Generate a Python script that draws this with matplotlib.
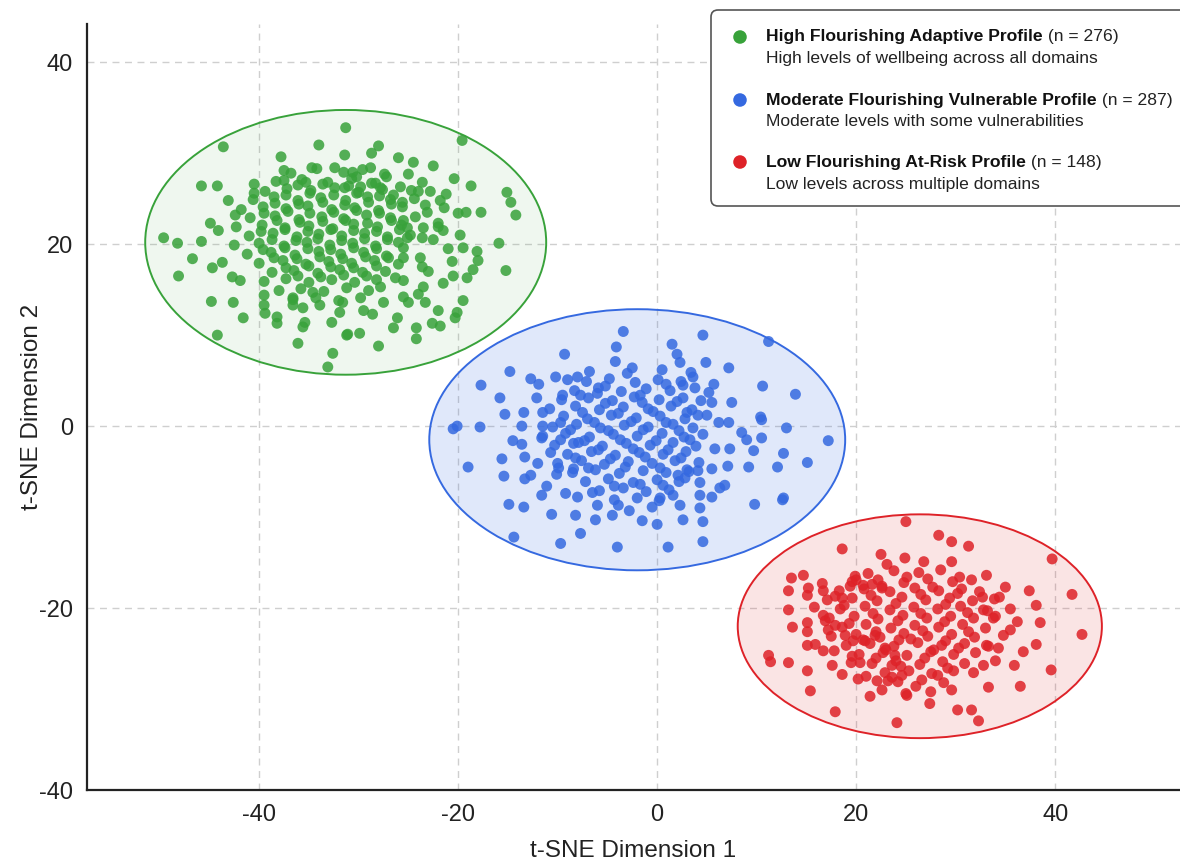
"""t-SNE projection of the three flourishing profiles"""

import numpy as np
import matplotlib
matplotlib.use("Agg")
import matplotlib.pyplot as plt
from matplotlib.patches import Ellipse, FancyBboxPatch

plt.rcParams["font.family"] = ["Liberation Sans", "DejaVu Sans"]
plt.rcParams["axes.unicode_minus"] = False

# ---- data ----
profile_names = [
    "High Flourishing Adaptive Profile",
    "Moderate Flourishing Vulnerable Profile",
    "Low Flourishing At-Risk Profile",
]
profile_n = [276, 287, 148]
profile_desc = [
    "High levels of wellbeing across all domains",
    "Moderate levels with some vulnerabilities",
    "Low levels across multiple domains",
]

green_pts = [
    # outer points
    (-43.6, 30.7), (-34.0, 30.9), (-31.3, 32.8), (-37.8, 29.6), (-31.4, 29.8),
    (-45.8, 26.4), (-44.2, 26.4), (-43.1, 24.8), (-40.5, 26.6), (-40.5, 25.6),
    (-37.5, 28.1), (-37.5, 27.0), (-34.7, 28.4), (-35.3, 26.8), (-32.4, 28.4),
    (-31.4, 26.2), (-44.9, 22.3), (-44.1, 21.5), (-42.4, 23.2), (-49.6, 20.7),
    (-48.2, 20.1), (-45.8, 20.3), (-46.7, 18.4), (-48.1, 16.5), (-44.7, 17.4),
    (-43.7, 18.0), (-42.7, 16.4), (-41.9, 16.0), (-44.8, 13.7), (-42.6, 13.6),
    (-41.6, 11.9), (-44.2, 10.0), (-39.5, 14.4), (-39.5, 13.3), (-39.4, 12.4),
    (-38.2, 12.0), (-38.2, 11.3), (-36.1, 9.1), (-36.6, 14.1), (-36.6, 13.3),
    (-35.6, 13.0), (-35.4, 11.4), (-35.6, 10.9), (-34.6, 14.7), (-33.9, 13.3),
    (-32.7, 11.4), (-32.6, 8.0), (-33.1, 6.5), (-31.2, 10.0), (-31.6, 13.6),
    (-31.9, 12.5), (-28.0, 30.8), (-19.6, 31.4), (-25.0, 27.7), (-28.8, 28.4),
    (-30.6, 27.9), (-30.2, 27.4), (-27.2, 27.4), (-18.7, 26.4), (-15.1, 25.7),
    (-14.7, 24.6), (-14.2, 23.2), (-24.0, 25.8), (-22.8, 25.8), (-21.8, 24.8),
    (-21.4, 24.0), (-23.3, 24.3), (-23.1, 23.5), (-20.0, 23.4), (-19.2, 23.5),
    (-17.7, 23.5), (-22.0, 22.3), (-22.0, 21.9), (-15.9, 20.1), (-18.1, 19.2),
    (-18.0, 18.2), (-19.5, 19.6), (-20.6, 18.1), (-15.2, 17.1), (-19.1, 16.3),
    (-21.5, 15.7), (-19.5, 13.8), (-20.1, 12.5), (-20.3, 11.9), (-22.0, 12.7),
    (-22.6, 11.3), (-21.8, 11.0), (-24.2, 10.8), (-24.2, 9.6), (-26.1, 11.9),
    (-26.5, 10.8), (-28.0, 8.8), (-31.1, 10.1), (-29.9, 10.2), (-29.5, 12.7),
    (-28.6, 12.3), (-27.5, 13.6), (-27.8, 15.3), (-23.3, 13.6), (-23.5, 15.3),
    (-25.5, 14.2), (-25.0, 13.6), (-26.3, 16.3), (-23.8, 18.5), (-23.6, 17.5),
    (-25.5, 19.6), (-25.5, 18.5), (-25.1, 20.7), (-25.1, 21.8), (-25.5, 22.6),
    (-25.6, 24.6), (-23.5, 21.8), (-23.6, 20.7), (-26.5, 25.4), (-25.8, 26.3),
    (-27.8, 26.2), (-29.8, 26.3), (-22.5, 20.5), (-21.0, 19.5), (-23.0, 17.0),
    (-20.5, 16.5), (-24.0, 14.5), (-21.5, 21.5), (-19.8, 21.0), (-18.5, 17.2),
    (-21.2, 25.5), (-23.6, 26.8), (-20.4, 27.2), (-24.5, 29.0), (-26.0, 29.5),
    (-28.7, 30.0), (-22.5, 28.6),
    # dense core
    (-36.8, 27.8), (-34.2, 28.3), (-31.5, 27.9), (-29.6, 28.2), (-27.4, 27.7),
    (-38.3, 26.9), (-35.7, 27.1), (-33.1, 26.8), (-30.7, 27.2), (-28.3, 26.7),
    (-39.4, 25.8), (-37.2, 26.1), (-34.8, 25.9), (-32.4, 26.2), (-30.0, 25.7),
    (-27.6, 26.0), (-24.7, 25.9), (-40.6, 24.9), (-38.5, 25.2), (-36.1, 24.8),
    (-33.8, 25.1), (-31.3, 24.8), (-29.1, 25.2), (-26.8, 24.9), (-24.4, 25.0),
    (-41.8, 23.8), (-39.6, 24.1), (-37.3, 23.9), (-35.1, 24.2), (-32.7, 23.8),
    (-30.4, 24.0), (-28.0, 23.7), (-25.6, 24.1), (-40.9, 22.9), (-38.4, 23.1),
    (-36.0, 22.7), (-33.7, 23.0), (-31.5, 22.8), (-29.2, 23.2), (-26.8, 22.9),
    (-24.3, 23.0), (-42.3, 21.9), (-39.7, 22.1), (-37.4, 21.8), (-35.0, 22.0),
    (-32.6, 21.7), (-30.5, 22.2), (-28.1, 21.9), (-25.7, 22.1), (-41.0, 20.9),
    (-38.6, 21.2), (-36.2, 20.8), (-34.0, 21.1), (-31.7, 20.9), (-29.4, 21.2),
    (-27.1, 20.8), (-24.8, 21.0), (-42.5, 19.9), (-40.0, 20.1), (-37.5, 19.8),
    (-35.2, 20.2), (-32.9, 19.9), (-30.6, 20.1), (-28.3, 19.8), (-26.0, 20.2),
    (-41.2, 18.9), (-38.8, 19.1), (-36.4, 18.8), (-34.0, 19.2), (-31.8, 18.9),
    (-29.5, 19.1), (-27.2, 18.7), (-40.0, 17.9), (-37.6, 18.2), (-35.3, 17.8),
    (-33.0, 18.1), (-30.7, 17.9), (-28.4, 18.2), (-26.0, 17.8), (-38.7, 16.9),
    (-36.5, 17.1), (-34.1, 16.8), (-31.9, 17.2), (-29.6, 16.9), (-27.3, 17.0),
    (-39.5, 15.9), (-37.3, 16.2), (-35.0, 15.8), (-32.7, 16.1), (-30.4, 15.8),
    (-28.2, 16.1), (-25.5, 16.0), (-38.0, 14.9), (-35.8, 15.1), (-33.5, 14.8),
    (-31.2, 15.2), (-29.0, 14.9), (-36.6, 13.9), (-34.3, 14.1), (-32.0, 13.8),
    (-29.8, 14.1), (-36.1, 26.5), (-33.6, 26.6), (-31.0, 26.4), (-28.7, 26.7),
    (-37.3, 25.4), (-34.9, 25.6), (-32.5, 25.4), (-30.2, 25.6), (-27.9, 25.3),
    (-38.4, 24.5), (-36.0, 24.4), (-33.6, 24.6), (-31.4, 24.3), (-29.0, 24.6),
    (-26.7, 24.4), (-39.5, 23.4), (-37.1, 23.6), (-34.9, 23.4), (-32.5, 23.5),
    (-30.2, 23.7), (-27.9, 23.4), (-38.2, 22.6), (-35.9, 22.4), (-33.6, 22.5),
    (-31.3, 22.6), (-29.1, 22.3), (-26.7, 22.6), (-39.8, 21.4), (-37.4, 21.6),
    (-35.1, 21.4), (-32.8, 21.6), (-30.5, 21.5), (-28.2, 21.4), (-25.9, 21.6),
    (-38.7, 20.5), (-36.3, 20.4), (-34.1, 20.6), (-31.7, 20.4), (-29.4, 20.6),
    (-27.1, 20.5), (-39.6, 19.4), (-37.4, 19.6), (-35.1, 19.5), (-32.8, 19.4),
    (-30.5, 19.6), (-28.2, 19.5), (-38.5, 18.5), (-36.2, 18.4), (-33.9, 18.6),
    (-31.6, 18.4), (-29.3, 18.6), (-27.0, 18.5), (-37.3, 17.4), (-35.0, 17.6),
    (-32.8, 17.5), (-30.5, 17.4), (-28.2, 17.6), (-36.1, 16.5), (-33.8, 16.4),
    (-31.5, 16.6), (-29.2, 16.5),
]

blue_pts = [
    # outer points
    (-3.4, 10.4), (-4.1, 8.7), (-9.3, 7.9), (-4.2, 7.1), (-2.5, 6.4),
    (-14.8, 6.0), (-6.8, 6.0), (-17.7, 4.5), (-15.8, 3.1), (-12.7, 5.2),
    (-11.9, 4.6), (-10.2, 5.4), (-9.0, 5.1), (-8.0, 5.4), (-5.2, 4.4),
    (-12.1, 3.1), (-9.5, 3.4), (-7.7, 3.4), (-15.3, 1.3), (-13.4, 1.5),
    (-11.5, 1.5), (-20.5, -0.3), (-20.1, 0.0), (-17.8, -0.1), (-13.6, 0.0),
    (-11.5, 0.0), (-9.7, 0.4), (-14.5, -1.6), (-13.6, -2.0), (-11.6, -1.3),
    (-9.7, -1.5), (-8.4, -1.9), (-10.7, -2.9), (-19.0, -4.5), (-15.6, -3.6),
    (-15.4, -5.5), (-13.3, -3.4), (-12.0, -4.1), (-13.3, -5.8), (-12.7, -5.4),
    (-10.1, -5.3), (-9.9, -4.6), (-8.4, -4.7), (-11.1, -6.6), (-11.6, -7.6),
    (-9.2, -7.4), (-8.0, -7.8), (-6.5, -7.3), (-14.9, -8.6), (-13.4, -8.9),
    (-10.6, -9.7), (-8.2, -9.8), (-6.2, -10.3), (-6.0, -8.7), (-14.4, -12.2),
    (-9.7, -12.9), (-7.7, -11.8), (-4.0, -13.3), (-4.5, -9.8), (-3.9, -8.7),
    (4.6, 10.0), (11.2, 9.3), (1.5, 9.0), (2.0, 7.9), (2.3, 7.0),
    (4.9, 7.0), (7.2, 6.4), (10.6, 4.4), (13.9, 3.5), (5.7, 4.6),
    (5.2, 3.7), (3.6, 5.4), (2.6, 4.5), (7.5, 2.6), (5.5, 2.6),
    (10.4, 1.0), (10.5, 0.7), (5.0, 1.2), (6.2, 0.4), (7.2, 0.4),
    (13.0, -0.2), (8.5, -0.7), (9.0, -1.5), (10.5, -1.3), (9.7, -2.7),
    (17.2, -1.6), (12.7, -3.0), (7.3, -2.5), (5.8, -2.5), (15.1, -4.0),
    (12.1, -4.5), (9.2, -4.5), (7.1, -4.4), (5.5, -4.7), (4.1, -4.9),
    (3.0, -4.8), (6.8, -6.5), (6.3, -6.8), (4.3, -6.2), (4.3, -7.6),
    (5.5, -7.8), (9.8, -8.6), (12.6, -8.1), (12.7, -7.9), (4.3, -9.0),
    (4.6, -10.5), (4.6, -12.7), (2.6, -10.3), (1.1, -13.3), (-1.5, -10.4),
    (0.0, -10.8), (1.6, -7.6), (2.3, -8.7), (0.3, -7.9), (0.6, -6.5),
    (2.1, -5.4), (2.8, -5.7),
    # dense core
    (-3.0, 5.8), (0.5, 6.2), (3.4, 5.9), (-7.1, 4.9), (-4.8, 5.2),
    (-2.2, 4.8), (0.1, 5.1), (2.4, 4.9), (-8.3, 3.9), (-5.9, 4.2),
    (-3.6, 3.8), (-1.1, 4.1), (1.3, 3.9), (3.8, 4.2), (-9.6, 2.9),
    (-6.9, 3.1), (-4.5, 2.8), (-2.3, 3.2), (0.2, 2.9), (2.6, 3.1),
    (4.4, 2.8), (-10.8, 1.9), (-8.2, 2.2), (-5.8, 1.8), (-3.4, 2.1),
    (-0.9, 1.9), (1.4, 2.2), (3.5, 1.8), (-9.4, 1.1), (-7.0, 0.8),
    (-4.6, 1.2), (-2.1, 0.9), (0.3, 1.1), (2.8, 0.8), (4.1, 1.2),
    (-10.5, -0.1), (-8.1, 0.2), (-5.7, -0.2), (-3.3, 0.1), (-0.9, -0.1),
    (1.6, 0.2), (3.6, -0.2), (-11.5, -1.1), (-9.2, -0.8), (-6.8, -1.2),
    (-4.4, -0.9), (-2.0, -1.1), (0.5, -0.8), (2.7, -1.2), (4.6, -0.9),
    (-10.3, -2.1), (-7.9, -1.8), (-5.5, -2.2), (-3.1, -1.9), (-0.7, -2.1),
    (1.6, -1.8), (3.9, -2.2), (-9.0, -3.1), (-6.6, -2.8), (-4.2, -3.2),
    (-1.8, -2.9), (0.6, -3.1), (2.9, -2.8), (-10.0, -4.1), (-7.6, -3.8),
    (-5.3, -4.2), (-2.9, -3.9), (-0.5, -4.1), (1.8, -3.8), (4.2, -4.0),
    (-8.5, -5.1), (-6.2, -4.8), (-3.8, -5.2), (-1.4, -4.9), (0.9, -5.1),
    (3.2, -5.0), (-7.2, -6.1), (-4.9, -5.8), (-2.4, -6.2), (0.0, -5.9),
    (2.2, -6.1), (-5.8, -7.1), (-3.4, -6.8), (-1.1, -7.2), (1.2, -7.0),
    (-4.3, -8.1), (-2.0, -7.9), (0.2, -8.2), (-6.0, 3.6), (-1.7, 3.4),
    (0.9, 4.6), (-5.2, 2.5), (-1.5, 2.6), (2.0, 2.7), (-7.5, 1.5),
    (-3.9, 1.4), (-0.4, 1.6), (3.0, 1.5), (-6.3, 0.4), (-2.6, 0.5),
    (0.9, 0.4), (-8.7, -0.4), (-4.9, -0.5), (-1.4, -0.4), (2.2, -0.5),
    (-7.3, -1.6), (-3.7, -1.5), (-0.1, -1.6), (3.3, -1.5), (-5.9, -2.6),
    (-2.4, -2.5), (1.1, -2.6), (-8.2, -3.5), (-4.7, -3.6), (-1.2, -3.4),
    (2.4, -3.5), (-6.9, -4.6), (-3.2, -4.5), (0.3, -4.6), (-4.3, -6.6),
    (-1.7, -6.4), (-0.5, -8.9), (-2.8, -9.3),
]

red_pts = [
    # outer points
    (25.0, -10.5), (18.6, -13.5), (22.5, -14.1), (24.9, -14.5), (23.1, -15.2),
    (13.5, -16.7), (14.7, -16.4), (13.2, -18.1), (15.2, -17.8), (15.1, -18.6),
    (16.6, -17.3), (16.7, -18.1), (17.9, -18.7), (18.6, -18.9), (13.2, -20.2),
    (15.8, -19.9), (16.7, -20.8), (16.9, -21.4), (13.6, -22.1), (15.1, -21.6),
    (15.1, -22.6), (17.9, -21.9), (17.2, -22.4), (19.4, -17.6), (19.9, -16.5),
    (20.7, -17.5), (21.6, -17.4), (22.6, -17.8), (11.2, -25.2), (11.4, -25.9),
    (13.2, -26.0), (15.1, -24.1), (15.9, -24.0), (16.7, -24.7), (15.1, -26.9),
    (15.4, -29.1), (17.9, -31.4), (18.6, -27.3), (17.6, -26.3), (20.2, -27.8),
    (20.4, -26.0), (19.6, -25.3), (21.4, -29.7), (22.1, -28.0), (24.1, -32.6),
    (25.1, -29.6), (18.9, -23.0), (19.7, -23.6), (20.9, -23.6), (21.9, -23.0),
    (22.9, -24.4), (23.9, -25.2), (23.6, -26.3), (24.6, -27.4), (23.2, -28.0),
    (22.6, -29.0), (28.3, -12.0), (29.6, -12.7), (31.3, -13.2), (39.7, -14.6),
    (26.8, -14.9), (29.6, -14.9), (33.1, -16.4), (30.4, -16.6), (35.0, -17.7),
    (37.4, -18.1), (41.7, -18.5), (38.1, -19.7), (35.5, -20.1), (36.2, -21.5),
    (38.5, -21.6), (42.7, -22.9), (38.1, -24.0), (36.8, -24.8), (35.9, -26.3),
    (39.6, -26.8), (36.5, -28.6), (33.3, -28.7), (31.8, -27.1), (32.8, -26.3),
    (34.0, -25.8), (29.6, -29.0), (27.4, -30.5), (30.2, -31.2), (31.6, -31.2),
    (32.3, -32.4), (33.3, -24.2), (34.3, -24.4), (34.8, -23.0), (35.5, -22.4),
    (33.8, -21.1), (33.2, -20.3), (34.4, -18.8), (32.7, -18.8),
    # dense core
    (21.2, -16.2), (23.8, -15.9), (26.3, -16.1), (28.5, -15.8), (19.6, -17.1),
    (22.2, -16.9), (24.8, -17.2), (27.2, -16.8), (29.7, -17.1), (31.6, -16.9),
    (18.3, -18.1), (20.8, -17.9), (23.4, -18.2), (25.9, -17.8), (28.3, -18.1),
    (30.6, -17.9), (32.4, -18.2), (17.1, -19.1), (19.6, -18.9), (22.1, -19.2),
    (24.6, -18.8), (27.0, -19.1), (29.4, -18.9), (31.7, -19.2), (33.9, -19.0),
    (18.4, -20.1), (20.9, -19.8), (23.4, -20.2), (25.8, -19.9), (28.2, -20.1),
    (30.5, -19.8), (32.8, -20.2), (17.3, -21.1), (19.8, -20.9), (22.2, -21.2),
    (24.7, -20.8), (27.1, -21.1), (29.5, -20.9), (31.8, -21.1), (34.0, -20.9),
    (18.6, -22.1), (21.0, -21.8), (23.5, -22.2), (25.9, -21.9), (28.3, -22.1),
    (30.7, -21.8), (33.0, -22.2), (17.5, -23.1), (20.0, -22.9), (22.4, -23.2),
    (24.8, -22.8), (27.2, -23.1), (29.6, -22.9), (31.9, -23.2), (19.0, -24.1),
    (21.4, -23.9), (23.8, -24.2), (26.2, -23.8), (28.6, -24.1), (30.9, -23.9),
    (33.1, -24.1), (20.3, -25.1), (22.7, -24.9), (25.1, -25.2), (27.5, -24.8),
    (29.8, -25.1), (32.0, -24.9), (21.6, -26.1), (24.0, -25.8), (26.4, -26.2),
    (28.7, -25.9), (30.9, -26.1), (22.9, -27.1), (25.3, -26.9), (27.6, -27.2),
    (29.8, -26.9), (24.2, -28.1), (26.6, -27.9), (28.8, -28.2), (20.0, -16.9),
    (22.6, -17.6), (25.1, -16.6), (27.7, -17.7), (30.2, -18.4), (21.5, -18.6),
    (24.0, -19.5), (26.5, -18.5), (29.0, -19.6), (18.8, -19.7), (21.7, -20.6),
    (24.2, -21.4), (26.5, -20.6), (28.9, -21.5), (31.2, -20.5), (19.3, -21.7),
    (22.0, -22.6), (24.3, -23.5), (26.7, -22.5), (29.0, -23.6), (31.3, -22.6),
    (20.7, -23.5), (23.0, -24.6), (25.5, -23.4), (27.8, -24.6), (30.3, -24.4),
    (22.0, -25.5), (24.5, -26.4), (26.9, -25.5), (29.2, -26.6), (23.6, -27.6),
    (26.0, -28.6), (28.2, -27.4), (25.0, -29.4), (27.5, -29.2), (21.0, -27.5),
    (19.5, -26.0), (17.8, -24.7),
]

# confidence ellipses: centre x, centre y, width, height
ellipse_cx = [-31.3, -2.0, 26.4]
ellipse_cy = [20.2, -1.5, -22.0]
ellipse_w = [40.3, 41.8, 36.6]
ellipse_h = [29.1, 28.7, 24.6]

xticks = [-40, -20, 0, 20, 40]
yticks = [-40, -20, 0, 20, 40]

# ---- styles ----
colors = ["#38a23a", "#3569e0", "#de2228"]
fill_alpha = [0.08, 0.15, 0.12]
W, H = 1180, 863

fig = plt.figure(figsize=(W / 100, H / 100), dpi=100)
ax = fig.add_axes([87 / W, (H - 790) / H, (W - 87) / W, (790 - 24) / H])

clusters = [green_pts, blue_pts, red_pts]
for i, pts in enumerate(clusters):
    arr = np.array(pts)
    ax.add_patch(Ellipse((ellipse_cx[i], ellipse_cy[i]), ellipse_w[i], ellipse_h[i],
                         facecolor=colors[i], alpha=fill_alpha[i], edgecolor="none", zorder=1))
    ax.add_patch(Ellipse((ellipse_cx[i], ellipse_cy[i]), ellipse_w[i], ellipse_h[i],
                         facecolor="none", edgecolor=colors[i], lw=1.4, zorder=2))
    ax.scatter(arr[:, 0], arr[:, 1], s=62, color=colors[i], alpha=0.85,
               edgecolors="none", zorder=3)

ax.set_xlim(-57.3, 52.55)
ax.set_ylim(-40, 44.2)
ax.set_xticks(xticks)
ax.set_yticks(yticks)
ax.tick_params(length=0, labelsize=17, pad=10, colors="#222222")
ax.grid(True, color="#cfcfcf", linestyle=(0, (5, 4)), lw=1.0, zorder=0)
ax.set_axisbelow(True)
for side in ["top", "right"]:
    ax.spines[side].set_visible(False)
for side in ["left", "bottom"]:
    ax.spines[side].set_linewidth(1.6)
    ax.spines[side].set_color("#222222")
ax.set_xlabel("t-SNE Dimension 1", fontsize=17.5, labelpad=10, color="#222222")
ax.set_ylabel("t-SNE Dimension 2", fontsize=17.5, labelpad=-3, color="#222222")

# legend drawn on a pixel-space overlay
ov = fig.add_axes([0, 0, 1, 1])
ov.set_xlim(0, W)
ov.set_ylim(H, 0)
ov.axis("off")
ov.set_zorder(5)
ov.add_patch(FancyBboxPatch((711, 10), 520, 196, boxstyle="round,pad=0,rounding_size=7",
                            facecolor="white", edgecolor="#555555", lw=1.2))
row_y = [37, 100, 162]
for i in range(3):
    y = row_y[i]
    ov.scatter([740], [y], s=95, color=colors[i], edgecolors="none")
    t = ov.text(766, y, profile_names[i], fontsize=12.6, fontweight="bold",
                va="center", ha="left", color="#111111")
    ov.annotate(f" (n = {profile_n[i]})", xy=(1, 0), xycoords=t, va="bottom",
                ha="left", fontsize=12.6, color="#222222")
    ov.text(766, y + 22, profile_desc[i], fontsize=12.6, va="center", ha="left",
            color="#222222")

fig.savefig("out.png", dpi=100)
